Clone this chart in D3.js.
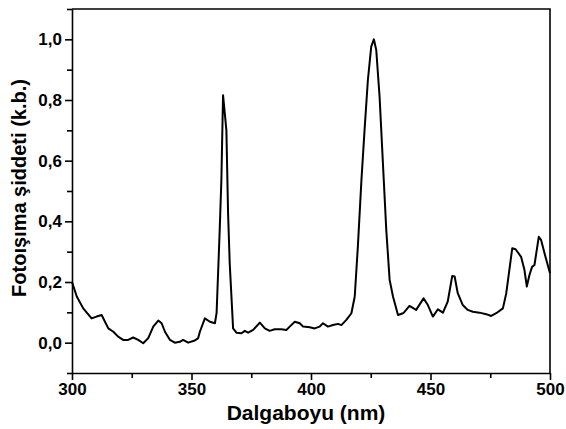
<!DOCTYPE html>
<html>
<head>
<meta charset="utf-8">
<script src="https://cdn.jsdelivr.net/npm/d3@7"></script>
<style>
  body { margin: 0; background: #fff; }
  text { font-family: "Liberation Sans", Arial, sans-serif; font-weight: bold; fill: #000; }
  .axis path, .axis line { stroke: #000; stroke-width: 1.6; }
</style>
</head>
<body>
<div id="chart"></div>
<script>
// data
const wavelength = [300, 302, 304.7, 308.2, 310.3, 312.4, 313.8, 315.2, 317.3, 319.3, 321.4, 323.5, 325.6, 327.7,
  329.8, 331.9, 334, 336.1, 337.5, 338.9, 341, 343, 345.1, 346.5, 348.6, 351.4, 352.8, 353.5, 355.6, 357.7,
  359.8, 360.5, 361.8, 362.5, 363.2, 364.6, 365.3, 366, 367.4, 368.8, 370.9, 372.3, 373.7, 375.8, 378.6,
  380.7, 382.7, 384.8, 387.6, 389.7, 391.1, 393.2, 395.3, 396.7, 399.5, 401.5, 403.6, 405, 407.1, 409.2,
  411.3, 412.7, 414.8, 416.9, 418.3, 419.6, 421.1, 422.4, 423.8, 425.2, 426.3, 427.3, 428.7, 430.1, 431.5,
  432.9, 434.3, 436.4, 438.5, 439.2, 441.2, 444, 447.1, 448.9, 451, 453.1, 455.2, 457.2, 459.1, 460.1,
  461.4, 463.5, 465.6, 467.7, 470.5, 473.3, 475.4, 477.5, 480.3, 481.7, 483, 484.2, 485.6, 487.9, 489.3,
  490.3, 491.4, 492.5, 493.5, 495.3, 496.3, 498.1, 500]
const intensity = [0.20, 0.152, 0.113, 0.08, 0.086, 0.091, 0.069, 0.047, 0.036, 0.02, 0.009, 0.009, 0.017, 0.009,
  -0.002, 0.015, 0.053, 0.073, 0.064, 0.036, 0.009, 0.0, 0.003, 0.009, 0.0, 0.007, 0.015, 0.036, 0.08, 0.069,
  0.064, 0.098, 0.371, 0.536, 0.816, 0.70, 0.427, 0.26, 0.047, 0.033, 0.031, 0.039, 0.033, 0.042, 0.066,
  0.047, 0.039, 0.044, 0.044, 0.042, 0.053, 0.069, 0.064, 0.053, 0.051, 0.047, 0.053, 0.064, 0.053, 0.058,
  0.062, 0.058, 0.075, 0.097, 0.152, 0.316, 0.536, 0.70, 0.866, 0.976, 1.0, 0.965, 0.81, 0.59, 0.371,
  0.207, 0.152, 0.091, 0.097, 0.102, 0.121, 0.108, 0.146, 0.124, 0.086, 0.11, 0.099, 0.135, 0.22, 0.218,
  0.163, 0.124, 0.108, 0.102, 0.099, 0.094, 0.088, 0.097, 0.113, 0.163, 0.24, 0.311, 0.308, 0.283, 0.24,
  0.185, 0.223, 0.25, 0.256, 0.349, 0.338, 0.283, 0.229]

const xMajor = [300, 350, 400, 450, 500]
const xMinor = [325, 375, 425, 475]
const yMajor = [0, 0.2, 0.4, 0.6, 0.8, 1.0]
const yMinor = [-0.1, 0.1, 0.3, 0.5, 0.7, 0.9, 1.1]

const width = 566
const height = 429
const margin = { top: 9, right: 16, bottom: 56, left: 72 }
const innerW = width - margin.left - margin.right
const innerH = height - margin.top - margin.bottom

const svg = d3.select("#chart").append("svg").attr("width", width).attr("height", height)
const g = svg.append("g").attr("transform", `translate(${margin.left}, ${margin.top})`)

// scales
const x = d3.scaleLinear().domain([300, 500]).range([0, innerW])
const y = d3.scaleLinear().domain([-0.1, 1.1]).range([innerH, 0])

const comma = d3.formatLocale({ decimal: ",", thousands: ".", grouping: [3], currency: ["", ""] }).format(".1f")

// frame (top & right)
g.append("path")
  .attr("d", `M0,0H${innerW}V${innerH}`)
  .attr("fill", "none").attr("stroke", "#000").attr("stroke-width", 1.6)

// minor ticks
g.append("g").attr("class", "axis").attr("transform", `translate(0, ${innerH})`)
  .call(d3.axisBottom(x).tickValues(xMinor).tickSize(5).tickFormat(""))
  .select(".domain").remove()
g.append("g").attr("class", "axis")
  .call(d3.axisLeft(y).tickValues(yMinor).tickSize(5).tickFormat(""))
  .select(".domain").remove()

// major axes
const xAxisG = g.append("g").attr("class", "axis").attr("transform", `translate(0, ${innerH})`)
  .call(d3.axisBottom(x).tickValues(xMajor).tickSize(7).tickSizeOuter(0).tickPadding(3))
xAxisG.selectAll("text").style("font-size", "17px")

const yAxisG = g.append("g").attr("class", "axis")
  .call(d3.axisLeft(y).tickValues(yMajor).tickSize(7).tickSizeOuter(0).tickPadding(3).tickFormat(comma))
yAxisG.selectAll("text").style("font-size", "17px")

// spectrum line
const pts = wavelength.map((w, i) => [w, intensity[i]])
g.append("path")
  .datum(pts)
  .attr("fill", "none")
  .attr("stroke", "#000")
  .attr("stroke-width", 2)
  .attr("stroke-linejoin", "round")
  .attr("d", d3.line().x(d => x(d[0])).y(d => y(d[1])))

// axis titles
svg.append("text")
  .attr("x", margin.left + innerW / 2 - 5)
  .attr("y", 420)
  .attr("text-anchor", "middle")
  .style("font-size", "21px")
  .text("Dalgaboyu (nm)")

svg.append("text")
  .attr("transform", `translate(26, ${margin.top + innerH / 2 - 3}) rotate(-90)`)
  .attr("text-anchor", "middle")
  .style("font-size", "20px")
  .text("Fotoışıma şiddeti (k.b.)")
</script>
</body>
</html>
